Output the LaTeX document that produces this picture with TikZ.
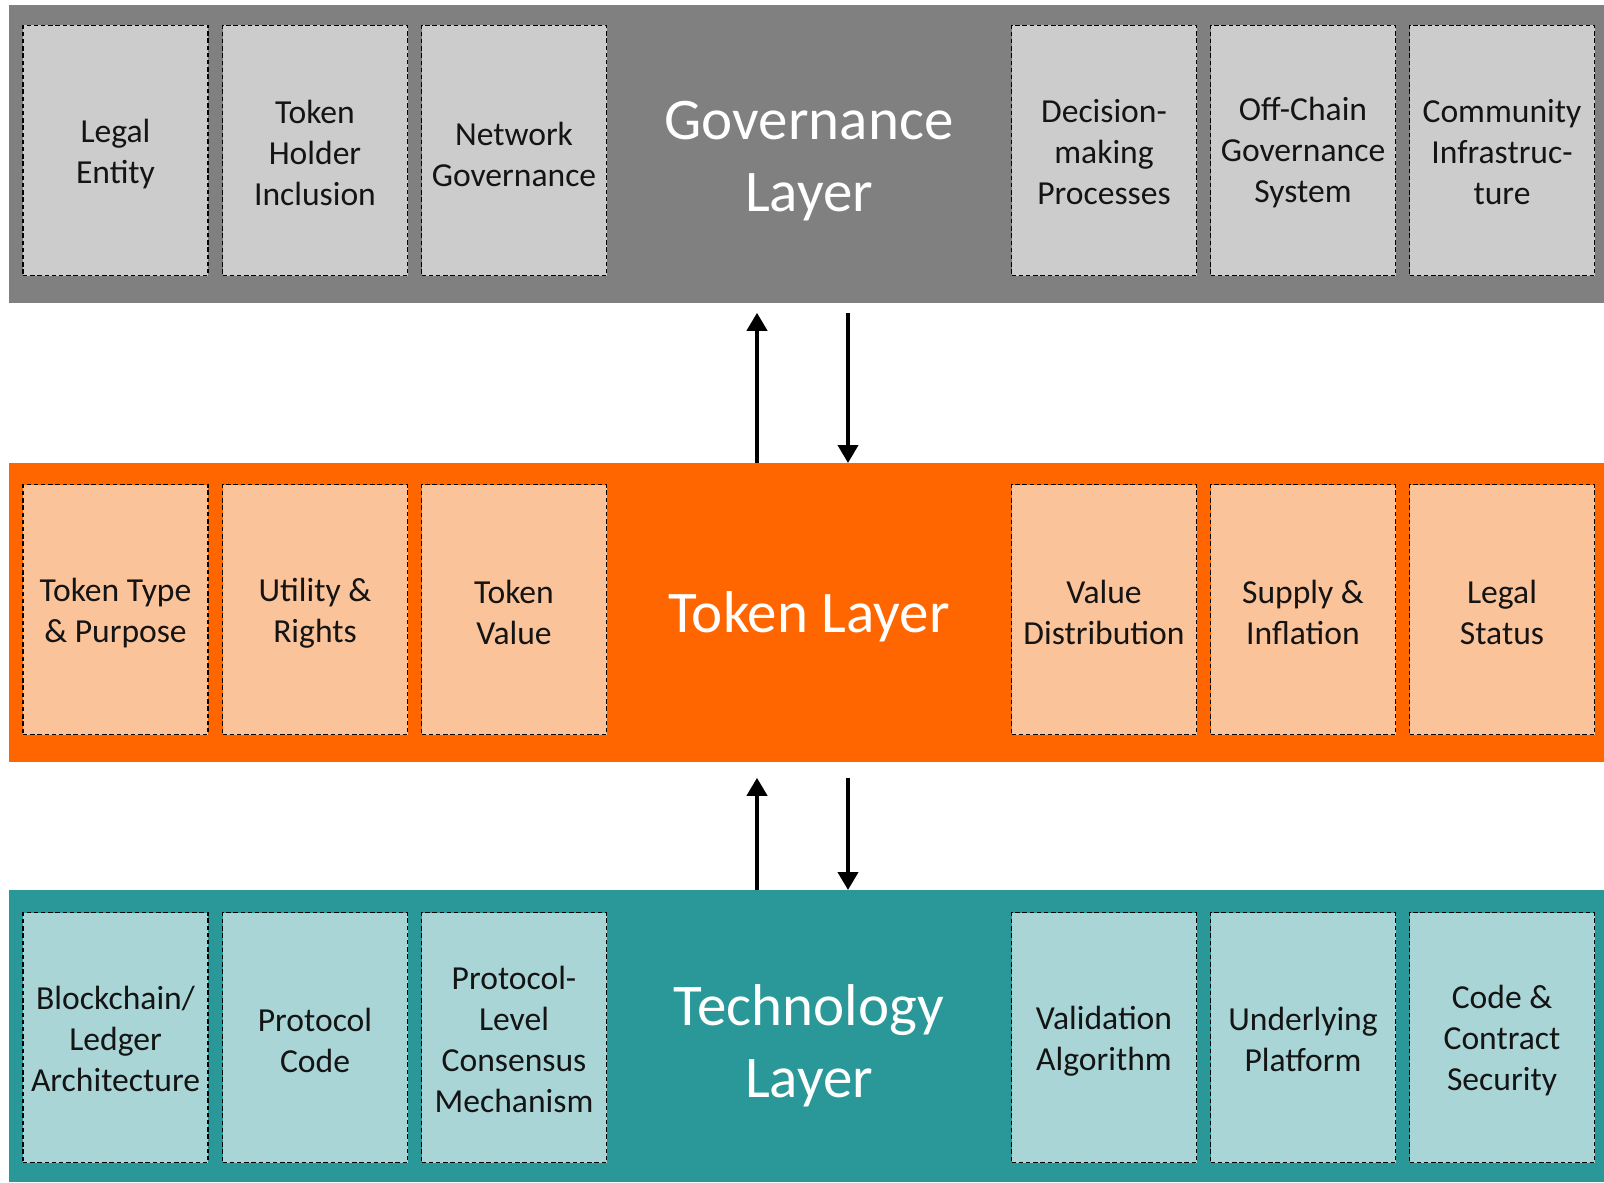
\documentclass[tikz,border=0pt]{standalone}
\usepackage{fontspec}
\setmainfont{Carlito}
\usetikzlibrary{arrows.meta}

\definecolor{govband}{RGB}{128,128,128}
\definecolor{govbox}{RGB}{204,204,204}
\definecolor{tokband}{RGB}{255,102,0}
\definecolor{tokbox}{RGB}{251,195,154}
\definecolor{techband}{RGB}{42,152,152}
\definecolor{techbox}{RGB}{170,213,214}
\definecolor{boxtext}{RGB}{20,20,20}

\tikzset{
  band/.style={rectangle, inner sep=0pt, anchor=north west},
  item/.style={rectangle, draw=black, line width=0.7pt, dash pattern=on 2.2pt off 1.4pt,
    minimum width=92.5pt, minimum height=125pt, inner sep=0pt},
  govitem/.style={item, fill=govbox},
  tokitem/.style={item, fill=tokbox},
  techitem/.style={item, fill=techbox},
  itemtext/.style={inner sep=0pt, align=center, text=boxtext,
    font=\fontsize{16.8}{20.5}\selectfont},
  title/.style={text=white, align=center, font=\fontsize{29.5}{36}\selectfont},
  flow/.style={line width=2pt, -{Triangle[width=10pt,length=9pt]}}
}

\begin{document}
\begin{tikzpicture}[x=0.5pt, y=-0.5pt]
\useasboundingbox (0,0) rectangle (1604,1182);

% layer bands
\node[band, fill=govband, minimum width=797.5pt, minimum height=149pt] (gov) at (9,5) {};
\node[band, fill=tokband, minimum width=797.5pt, minimum height=149.5pt] (tok) at (9,463) {};
\node[band, fill=techband, minimum width=797.5pt, minimum height=146pt] (tech) at (9,890) {};

% governance layer
\node[title] (govt) at (809,161) {Governance\\Layer};
\node[govitem] (g1) at (115.5,150.5) {};
\node[govitem] (g2) at (315,150.5) {};
\node[govitem] (g3) at (514,150.5) {};
\node[govitem] (g4) at (1104,150.5) {};
\node[govitem] (g5) at (1303,150.5) {};
\node[govitem] (g6) at (1502,150.5) {};
\node[itemtext] (g1t) at ([yshift=-2pt]g1.center) {Legal\\Entity};
\node[itemtext] (g2t) at ([yshift=-1pt]g2.center) {Token\\Holder\\Inclusion};
\node[itemtext] (g3t) at ([yshift=-2pt]g3.center) {Network\\Governance};
\node[itemtext] (g4t) at ([yshift=-1pt]g4.center) {Decision-\\making\\Processes};
\node[itemtext] (g5t) at ([yshift=-1pt]g5.center) {Off-Chain\\Governance\\System};
\node[itemtext] (g6t) at ([yshift=-1pt]g6.center) {Community\\Infrastruc-\\ture};

% token layer
\node[title] (tokt) at (809,617) {Token Layer};
\node[tokitem] (t1) at (115.5,609.5) {};
\node[tokitem] (t2) at (315,609.5) {};
\node[tokitem] (t3) at (514,609.5) {};
\node[tokitem] (t4) at (1104,609.5) {};
\node[tokitem] (t5) at (1303,609.5) {};
\node[tokitem] (t6) at (1502,609.5) {};
\node[itemtext] (t1t) at ([yshift=-2pt]t1.center) {Token Type\\\& Purpose};
\node[itemtext] (t2t) at ([yshift=-2pt]t2.center) {Utility \&\\Rights};
\node[itemtext] (t3t) at ([yshift=-1.5pt]t3.center) {Token\\Value};
\node[itemtext] (t4t) at ([yshift=-1.5pt]t4.center) {Value\\Distribution};
\node[itemtext] (t5t) at ([yshift=-1.5pt]t5.center) {Supply \&\\Inflation};
\node[itemtext] (t6t) at ([yshift=-1.5pt]t6.center) {Legal\\Status};

% technology layer
\node[title] (techt) at (809,1046) {Technology\\Layer};
\node[techitem] (c1) at (115.5,1037.5) {};
\node[techitem] (c2) at (315,1037.5) {};
\node[techitem] (c3) at (514,1037.5) {};
\node[techitem] (c4) at (1104,1037.5) {};
\node[techitem] (c5) at (1303,1037.5) {};
\node[techitem] (c6) at (1502,1037.5) {};
\node[itemtext] (c1t) at ([yshift=-0.5pt]c1.center) {Blockchain/\\Ledger\\Architecture};
\node[itemtext] (c2t) at ([yshift=-1.5pt]c2.center) {Protocol\\Code};
\node[itemtext] (c3t) at ([yshift=-1pt]c3.center) {Protocol-\\Level\\Consensus\\Mechanism};
\node[itemtext] (c4t) at ([yshift=-2pt]c4.center) {Validation\\Algorithm};
\node[itemtext] (c5t) at ([yshift=-1pt]c5.center) {Underlying\\Platform};
\node[itemtext] (c6t) at ([yshift=-1.5pt]c6.center) {Code \&\\Contract\\Security};

% arrow columns
\coordinate (up) at (757,0);
\coordinate (down) at (848,0);

% flows between layers
\draw[flow, shorten >=4.5pt] (tok.north -| up) -- (gov.south -| up);
\draw[flow, shorten <=4.5pt] (gov.south -| down) -- (tok.north -| down);
\draw[flow, shorten >=7.5pt] (tech.north -| up) -- (tok.south -| up);
\draw[flow, shorten <=7.5pt] (tok.south -| down) -- (tech.north -| down);
\end{tikzpicture}
\end{document}
